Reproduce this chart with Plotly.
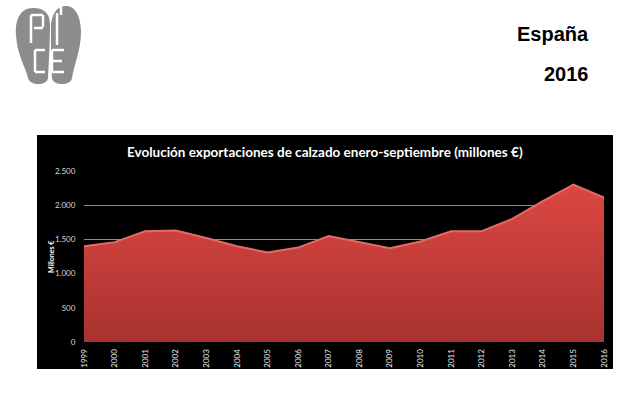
import plotly.graph_objects as go

years = [str(y) for y in range(1999, 2017)]
values = [1400, 1460, 1620, 1630, 1520, 1400, 1310, 1380, 1550, 1460,
          1370, 1470, 1620, 1620, 1800, 2060, 2300, 2110]
y_ticks = [0, 500, 1000, 1500, 2000, 2500]

W, H = 640, 400
L, R, T, B = 84, 36, 171, 58
PW, PH = W - L - R, H - T - B

def px(x):
    return (x - L) / PW

def py(y):
    return (H - B - y) / PH

def path_px(cmds):
    out = []
    for c in cmds:
        if isinstance(c, str):
            out.append(c)
        else:
            out.append(f"{px(c[0]):.5f},{py(c[1]):.5f}")
    return " ".join(out)

fig = go.Figure()
fig.add_trace(go.Scatter(
    x=years, y=values, mode="lines",
    line=dict(color="#e36b65", width=2),
    fill="tozeroy",
    fillgradient=dict(type="vertical",
                      colorscale=[[0, "#a93230"], [1, "#dc4742"]]),
    hoverinfo="skip", showlegend=False,
))

shapes = []
# black panel
shapes.append(dict(type="rect", xref="paper", yref="paper",
                   x0=px(37), x1=px(613), y0=py(369), y1=py(135),
                   fillcolor="black", line=dict(width=0), layer="below"))
# logo feet
left_foot = ["M", (33, 8), "C", (20, 8), (15, 20), (16, 35), "C", (17, 55), (26, 68), (28, 78),
             "C", (30, 86), (47, 86), (48, 78), "C", (49, 60), (50, 40), (50, 25),
             "C", (50, 12), (43, 8), (33, 8), "Z"]
right_foot = ["M", (66, 6), "C", (57, 6), (51, 14), (51, 28), "C", (51, 45), (51, 62), (52, 78),
              "C", (53, 86), (71, 86), (72, 78), "C", (74, 65), (81, 50), (81, 32),
              "C", (81, 16), (75, 6), (66, 6), "Z"]
for p in (left_foot, right_foot):
    shapes.append(dict(type="path", xref="paper", yref="paper", path=path_px(p),
                       fillcolor="#8c8c8c", line=dict(width=0)))
strokes = [((31, 15), (31, 43)), ((31, 15), (43, 15)), ((43, 15), (43, 27)), ((34, 28), (43, 28)),
           ((57, 13), (57, 45)), ((61, 5), (61, 15)),
           ((35, 50), (45, 50)), ((35, 50), (35, 72)), ((35, 72), (45, 72)),
           ((52, 50), (64, 50)), ((52, 50), (52, 72)), ((52, 61), (62, 61)), ((52, 72), (64, 72))]
for (a, b) in strokes:
    shapes.append(dict(type="line", xref="paper", yref="paper",
                       x0=px(a[0]), y0=py(a[1]), x1=px(b[0]), y1=py(b[1]),
                       line=dict(color="white", width=2.5)))

annotations = [
    dict(text="<b>España</b>", xref="paper", yref="paper", x=px(591), y=py(34),
         xanchor="right", yanchor="middle", showarrow=False,
         font=dict(family="Liberation Sans, Arial", size=20, color="black")),
    dict(text="<b>2016</b>", xref="paper", yref="paper", x=px(591), y=py(74),
         xanchor="right", yanchor="middle", showarrow=False,
         font=dict(family="Liberation Sans, Arial", size=20, color="black")),
    dict(text="<b>Evolución exportaciones de calzado enero-septiembre (millones €)</b>",
         xref="paper", yref="paper", x=px(325), y=py(152),
         xanchor="center", yanchor="middle", showarrow=False,
         font=dict(family="Lato, Open Sans", size=13.5, color="white")),
    dict(text="<b>Millones €</b>", xref="paper", yref="paper", x=px(51), y=py(257),
         xanchor="center", yanchor="middle", showarrow=False, textangle=-90,
         font=dict(family="Lato, Open Sans", size=7, color="white")),
]

fig.update_layout(
    width=W, height=H,
    margin=dict(l=L, r=R, t=T, b=B, pad=0),
    paper_bgcolor="white", plot_bgcolor="#3f3f3f",
    separators=",.",
    shapes=shapes, annotations=annotations,
    xaxis=dict(type="category", range=[0, len(years) - 1],
               tickangle=-90, showgrid=False, zeroline=False,
               tickfont=dict(family="Lato, Open Sans", size=8, color="#e8e8e8"),
               ticks="outside", ticklen=3, tickcolor="black", showline=False),
    yaxis=dict(range=[0, 2500], tickvals=y_ticks, tickformat=",d",
               showgrid=True, gridcolor="#8a8a8a", gridwidth=1, zeroline=False,
               tickfont=dict(family="Lato, Open Sans", size=8, color="#d8d8d8"),
               ticks="outside", ticklen=6, tickcolor="black", showline=False),
)

fig.write_html("out.html", config={"displayModeBar": False})
